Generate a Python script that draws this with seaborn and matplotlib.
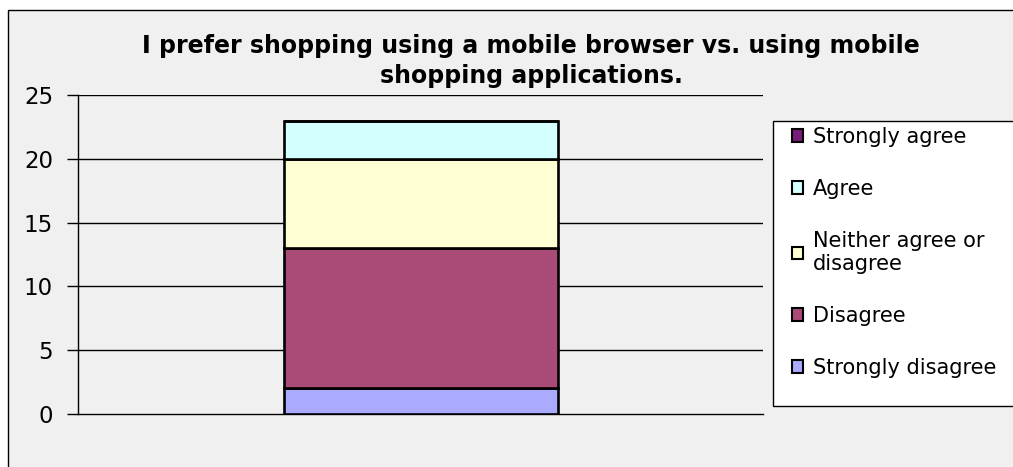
import matplotlib
matplotlib.use("Agg")
import matplotlib.pyplot as plt
from matplotlib.patches import Rectangle, Patch
import seaborn as sns
import pandas as pd

# Survey responses (counts), bottom of the stack first
categories = ["Strongly disagree", "Disagree", "Neither agree or\ndisagree", "Agree", "Strongly agree"]
counts = [2, 11, 7, 3, 0]
colors = ["#aaaaff", "#aa4a77", "#ffffd4", "#d4ffff", "#7a1a7a"]
yticks = [0, 5, 10, 15, 20, 25]
title = "I prefer shopping using a mobile browser vs. using mobile\nshopping applications."

sns.set_theme(style="white")
plt.rcParams["font.family"] = ["DejaVu Sans"]

W, H = 1013, 467
fig = plt.figure(figsize=(W / 100, H / 100), dpi=100)
fig.patch.set_facecolor("white")


def fx(px):
    return px / W


def fy(py):
    return 1 - py / H


# chart area panel with outline
fig.patches.append(Rectangle((fx(8), fy(480)), fx(1030) - fx(8), fy(10) - fy(480),
                             transform=fig.transFigure, facecolor="#f0f0f0",
                             edgecolor="black", linewidth=1.0, zorder=-10))

ax = fig.add_axes([fx(78), fy(414), fx(763) - fx(78), fy(95) - fy(414)])
ax.set_facecolor("none")

df = pd.DataFrame({"group": [""] * len(counts), "response": categories, "count": counts})
bottom = 0
for (_, row), c in zip(df.iterrows(), colors):
    sns.barplot(x=[row["group"]], y=[row["count"]], bottom=bottom, color=c,
                edgecolor="black", linewidth=1.9, width=0.4, ax=ax,
                saturation=1, zorder=3)
    bottom += row["count"]

ax.set_xlim(-0.5, 0.5)
ax.set_ylim(0, 25)
ax.set_yticks(yticks)
ax.set_yticklabels([str(t) for t in yticks], fontsize=16.5, color="black")
ax.set_xticks([])
ax.set_xlabel("")
ax.set_ylabel("")
for v in yticks[1:]:
    ax.axhline(v, color="black", linewidth=1.0, zorder=1)
ax.tick_params(axis="y", which="both", left=True, length=8, width=1.0,
               color="black", pad=10, direction="out")
for s in ["top", "right"]:
    ax.spines[s].set_visible(False)
ax.spines["left"].set_color("black")
ax.spines["left"].set_linewidth(1.0)
ax.spines["bottom"].set_color("black")
ax.spines["bottom"].set_linewidth(1.0)

fig.text(fx(531), fy(34), title, ha="center", va="top", fontsize=17,
         fontweight="bold", color="black", linespacing=1.3)

# legend box
fig.patches.append(Rectangle((fx(773), fy(406)), fx(1030) - fx(773), fy(121) - fy(406),
                             transform=fig.transFigure, facecolor="white",
                             edgecolor="black", linewidth=1.0, zorder=1))
handles = [Patch(facecolor=c, edgecolor="black", linewidth=1.5, label=l)
           for c, l in zip(colors, categories)][::-1]
leg = fig.legend(handles=handles, loc="upper left", bbox_to_anchor=(fx(792), fy(127)),
                 frameon=False, fontsize=15, handlelength=0.55, handleheight=0.55,
                 handletextpad=0.45, labelspacing=1.53, borderaxespad=0, borderpad=0)
for t in leg.get_texts():
    t.set_color("black")

fig.savefig("out.png", dpi=100, facecolor=fig.get_facecolor())
